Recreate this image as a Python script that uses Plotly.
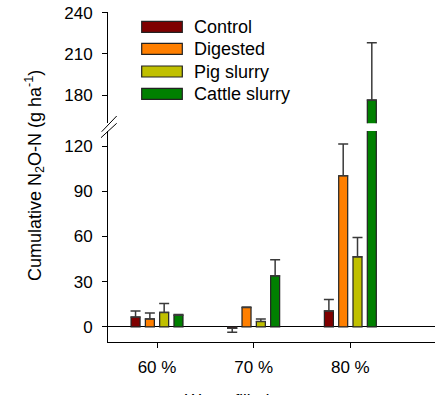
import plotly.graph_objects as go

# ---- data ----
categories = ["60 %", "70 %", "80 %"]
series = ["Control", "Digested", "Pig slurry", "Cattle slurry"]
colors = ["#7f0000", "#ff7f00", "#c0c000", "#008000"]
control = [6.6, -0.9, 10.6]
control_err = [4.0, 2.6, 7.6]
digested = [5.3, 12.9, 100.3]
digested_err = [4.0, 0.4, 21.0]
pig_slurry = [9.6, 3.6, 46.5]
pig_slurry_err = [6.0, 1.7, 12.9]
cattle_slurry = [7.8, 33.9, 176.4]
cattle_slurry_err = [0.5, 10.6, 41.7]
lower_ticks = [0, 30, 60, 90, 120]
upper_ticks = [180, 210, 240]

values = [control, digested, pig_slurry, cattle_slurry]
errors = [control_err, digested_err, pig_slurry_err, cattle_slurry_err]
xpos = list(range(len(categories)))

FONT = "Liberation Sans, Arial, sans-serif"
FS = 17

# figure geometry (pixels); page body margin is removed below
O = 0
W, H = 435, 395
ML, MR, MT, MB = 108, 0, 12, 53
PW, PH = W - ML - MR, H - MT - MB


def px2paper(px, py):
    """window pixel -> paper coords"""
    return (px - O - ML) / PW, (H - MB - (py - O)) / PH


fig = go.Figure()
for yax in ["y", "y2"]:
    for name, col, v, e in zip(series, colors, values, errors):
        up = [ee if vv >= 0 else 0 for vv, ee in zip(v, e)]
        dn = [0 if vv >= 0 else ee for vv, ee in zip(v, e)]
        fig.add_trace(go.Bar(
            x=xpos, y=v, name=name, yaxis=yax, xaxis="x",
            marker=dict(color=col, line=dict(color="#222222", width=1.2)),
            error_y=dict(type="data", symmetric=False, array=up, arrayminus=dn,
                         color="#3a3a3a", thickness=1.5, width=5),
            showlegend=False, hoverinfo="skip",
        ))

_, lower_top = px2paper(0, 131)
_, upper_bot = px2paper(0, 123.3)
x_lo = -0.507
x_hi = x_lo + PW / 96.67

fig.update_layout(
    width=W, height=H,
    margin=dict(l=ML, r=MR, t=MT, b=MB, pad=0),
    paper_bgcolor="white", plot_bgcolor="white",
    font=dict(family=FONT, size=FS, color="black"),
    barmode="group", bargap=0.408, bargroupgap=0.37,
    showlegend=False,
    xaxis=dict(domain=[0, 1], range=[x_lo, x_hi], anchor="y",
               tickvals=xpos, ticktext=categories,
               showline=True, linecolor="black", linewidth=1,
               ticks="outside", ticklen=5, tickcolor="black",
               showgrid=False, zeroline=False, ticklabelstandoff=5),
    yaxis=dict(domain=[0, lower_top], range=[-10, 130], anchor="x",
               tickvals=lower_ticks,
               showline=True, linecolor="black", linewidth=1,
               ticks="outside", ticklen=5, tickcolor="black",
               showgrid=False, zeroline=True, zerolinecolor="black",
               zerolinewidth=1, ticklabelstandoff=6),
    yaxis2=dict(domain=[upper_bot, 1], range=[159.5, 240.5], anchor="x",
                tickvals=upper_ticks, ticklabeloverflow="allow",
                showline=True, linecolor="black", linewidth=1,
                ticks="outside", ticklen=5, tickcolor="black",
                showgrid=False, zeroline=False, ticklabelstandoff=6),
)

shapes = []
annotations = []

# axis break marks
for (ax0, ay0, ax1, ay1) in [(101.7, 131.7, 116.7, 116.0), (101.0, 137.7, 116.7, 123.3)]:
    x0, y0 = px2paper(ax0, ay0)
    x1, y1 = px2paper(ax1, ay1)
    shapes.append(dict(type="line", xref="paper", yref="paper",
                       x0=x0, y0=y0, x1=x1, y1=y1,
                       line=dict(color="black", width=1)))

# legend
row_y = [26.8, 48.8, 71.5, 93.8]
for name, col, ry in zip(series, colors, row_y):
    x0, y0 = px2paper(141.7, ry + 5.5)
    x1, y1 = px2paper(182.3, ry - 5.5)
    shapes.append(dict(type="rect", xref="paper", yref="paper",
                       x0=x0, y0=y0, x1=x1, y1=y1,
                       fillcolor=col, line=dict(color="#222222", width=1.2)))
    tx, ty = px2paper(191.5, ry)
    annotations.append(dict(xref="paper", yref="paper", x=tx, y=ty,
                            text=name, showarrow=False, xanchor="left",
                            yanchor="middle", font=dict(size=18)))

# y-axis title
tx, ty = px2paper(34.5, 175.5)
annotations.append(dict(xref="paper", yref="paper", x=tx, y=ty,
                        text="Cumulative N<sub>2</sub>O-N (g ha<sup>-1</sup>)",
                        textangle=-90, showarrow=False, xanchor="center",
                        yanchor="middle", font=dict(size=18)))
# x-axis title (cut by the bottom edge as in the reference)
tx, ty = px2paper(271.5, 389)
annotations.append(dict(xref="paper", yref="paper", x=tx, y=ty,
                        text="Water filled pore space", showarrow=False,
                        xanchor="center", yanchor="top", font=dict(size=FS)))

fig.update_layout(shapes=shapes, annotations=annotations)
fig.write_html(
    "out.html",
    config={"displayModeBar": False, "staticPlot": True},
    post_script="document.body.style.margin='0';document.body.style.overflow='hidden';",
)
